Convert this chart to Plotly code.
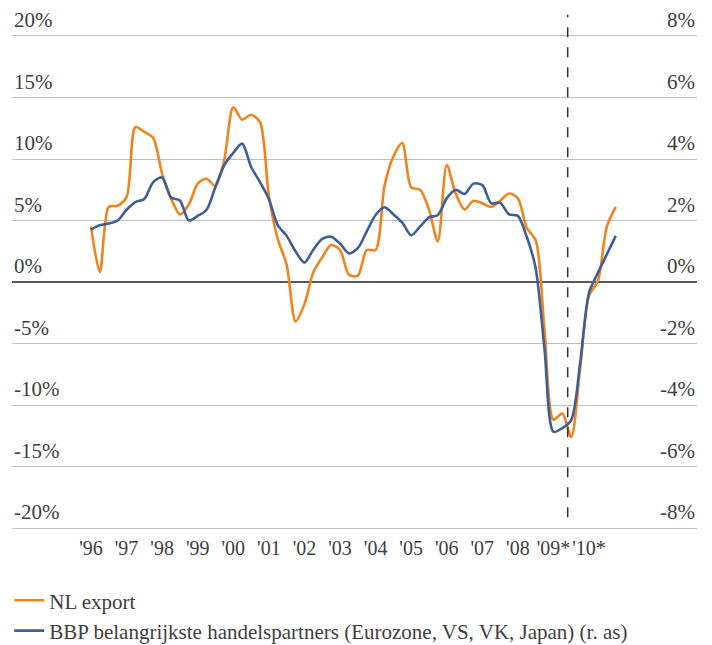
import plotly.graph_objects as go

# ---------------- data ----------------
years = list(range(1996, 2011))
quarters = [f"{y}-Q{q}" for y in years for q in range(1, 5)]
year_labels = ["'96", "'97", "'98", "'99", "'00", "'01", "'02", "'03", "'04",
               "'05", "'06", "'07", "'08", "'09*", "'10*"]

nl_export = [4.5, 0.8, 6.1, 6.2, 6.9, 12.6, 12.2, 11.7, 8.8, 6.8,
             5.5, 6.3, 8.0, 8.4, 7.8, 10.0, 14.2, 13.2, 13.6, 13.0,
             7.0, 3.5, 1.4, -3.2, -1.8, 0.8, 2.0, 3.0, 2.6, 0.6,
             0.5, 2.6, 2.6, 7.8, 10.2, 11.3, 7.7, 7.5, 5.9, 3.3,
             9.5, 7.2, 5.9, 6.6, 6.4, 6.1, 6.6, 7.2, 6.8, 4.4,
             3.4, -4.0, -11.2, -10.7, -12.6, -7.0, -1.1, 0.1, 4.5, 6.1]

bbp_partners = [1.7, 1.85, 1.9, 2.0, 2.35, 2.6, 2.7, 3.25, 3.4, 2.75,
                2.65, 2.0, 2.15, 2.35, 3.1, 3.8, 4.2, 4.5, 3.75, 3.25,
                2.7, 1.85, 1.5, 1.0, 0.63, 1.05, 1.4, 1.47, 1.25, 0.93,
                1.1, 1.64, 2.18, 2.43, 2.2, 1.93, 1.52, 1.8, 2.1, 2.18,
                2.72, 3.0, 2.86, 3.2, 3.15, 2.56, 2.58, 2.2, 2.15, 1.47,
                0.45, -2.2, -4.87, -4.75, -4.49, -2.64, -0.35, 0.3, 0.9, 1.5]

left_ticks = [20, 15, 10, 5, 0, -5, -10, -15, -20]
left_labels = ["20%", "15%", "10%", "5%", "0%", "-5%", "-10%", "-15%", "-20%"]
right_ticks = [8, 6, 4, 2, 0, -2, -4, -6, -8]
right_labels = ["8%", "6%", "4%", "2%", "0%", "-2%", "-4%", "-6%", "-8%"]

series_names = ["NL export",
                "BBP belangrijkste handelspartners (Eurozone, VS, VK, Japan) (r. as)"]

# forecast divider sits between 2009-Q2 and 2009-Q3
divider_pos = quarters.index("2009-Q2") + 0.6

# ---------------- style ----------------
FONT = "Liberation Serif"
TEXT = "#404040"
ORANGE = "#F0841C"
BLUE = "#3F5D98"
GRID = "#BFBFBF"

fig = go.Figure()
fig.add_trace(go.Scatter(x=quarters, y=nl_export, name=series_names[0],
                         mode="lines",
                         line=dict(color=ORANGE, width=2.6, shape="spline", smoothing=0.8)))
fig.add_trace(go.Scatter(x=quarters, y=bbp_partners, name=series_names[1],
                         mode="lines", yaxis="y2",
                         line=dict(color=BLUE, width=2.6, shape="spline", smoothing=0.8)))

annotations = []
for v, t in zip(left_ticks, left_labels):
    annotations.append(dict(xref="paper", yref="y", x=0, y=v, text=t,
                            xanchor="left", yanchor="bottom", showarrow=False,
                            yshift=2,
                            font=dict(family=FONT, size=21, color=TEXT)))
for v, t in zip(right_ticks, right_labels):
    annotations.append(dict(xref="paper", yref="y2", x=1, y=v, text=t,
                            xanchor="right", yanchor="bottom", showarrow=False,
                            yshift=2,
                            font=dict(family=FONT, size=21, color=TEXT)))

# page body adds an 8px offset, so the figure is 704x637 and sits at (8,8)
fig.update_layout(
    width=704, height=637,
    margin=dict(l=4, r=15, t=28, b=117, autoexpand=False),
    paper_bgcolor="white", plot_bgcolor="white",
    font=dict(family=FONT, size=20, color=TEXT),
    showlegend=True,
    legend=dict(x=-0.004, y=-0.106, xanchor="left", yanchor="top",
                orientation="v", font=dict(family=FONT, size=21, color=TEXT),
                tracegroupgap=0, bgcolor="rgba(0,0,0,0)"),
    xaxis=dict(type="category", categoryorder="array", categoryarray=quarters,
               range=[-8.88, 68.14], tickmode="array",
               tickvals=[f"{y}-Q1" for y in years], ticktext=year_labels,
               tickangle=0, automargin=False,
               showgrid=False, zeroline=False,
               showline=True, mirror=True, linecolor=GRID, linewidth=1.3,
               ticks="",
               tickfont=dict(family=FONT, size=20, color=TEXT),
               ticklabelstandoff=2),
    yaxis=dict(range=[-20, 20], tickvals=left_ticks, showticklabels=False,
               showgrid=True, gridcolor=GRID, gridwidth=1.3,
               zeroline=True, zerolinecolor="#595959", zerolinewidth=1.6,
               showline=False, ticks="", automargin=False),
    yaxis2=dict(range=[-8, 8], overlaying="y", side="right",
                showticklabels=False, showgrid=False, zeroline=False,
                showline=False, ticks="", automargin=False),
    annotations=annotations,
    shapes=[dict(type="line", xref="x", yref="paper",
                 x0=divider_pos, x1=divider_pos, y0=0.022, y1=1.043,
                 line=dict(color="#303030", width=1.5, dash="10px,10px"))],
)

fig.write_html("out.html")
